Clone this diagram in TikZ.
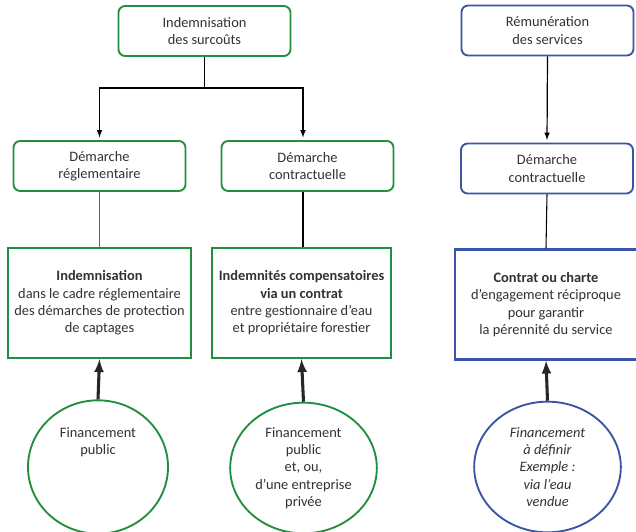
\documentclass[tikz,border=0pt]{standalone}
\usepackage{fontspec}
\setmainfont{Carlito}
\usepackage{xcolor}
\usetikzlibrary{arrows,calc,positioning,shapes.geometric}
\definecolor{vert}{RGB}{34,142,62}
\definecolor{bleu}{RGB}{58,84,166}
\definecolor{texte}{RGB}{50,50,50}
\tikzset{%
	demarche/.style = {draw, rectangle, rounded corners=5pt, line width=1.4pt, minimum width=129pt, minimum height=37.5pt, align=center, text=texte},
	bloc/.style     = {draw, rectangle, line width=1.7pt, minimum width=136pt, minimum height=82.5pt, align=center, text=texte},
	finance/.style  = {draw, ellipse, line width=1.4pt, inner sep=0pt, align=center, text=texte},
	arrow/.style    = {line width=0.9pt,-latex,shorten >=2pt},
	grosse/.style   = {line width=2.3pt,-latex},
}

\begin{document}
\begin{tikzpicture}[x=0.75pt,y=0.75pt,font=\fontsize{10.8}{13}\selectfont]
	\clip (0,0) rectangle (636,-532);
	\fill[white] (0,0) rectangle (636,-532);
	% colonne de gauche : indemnisation
	\node[demarche,draw=vert] (indem) at (204.5,-31) {Indemnisation\\des surco\^uts};
	\node[demarche,draw=vert] (demR) at (99.5,-166) {D\'emarche\\r\'eglementaire};
	\node[demarche,draw=vert] (demC) at (307.5,-166) {D\'emarche\\contractuelle};
	\node[bloc,draw=vert,minimum width=137pt] (blocR) at (99.5,-303) {\textbf{Indemnisation}\\dans le cadre r\'eglementaire\\des d\'emarches de protection\\de captages};
	\node[bloc,draw=vert,minimum width=134pt] (blocC) at (301.5,-303) {\textbf{Indemnit\'es compensatoires}\\\textbf{via un contrat}\\entre gestionnaire d'eau\\et propri\'etaire forestier};
	\node[finance,draw=vert,minimum width=105pt,minimum height=100pt] (finR) at (98,-467) {Financement\\public\\\mbox{}\\\mbox{}\\\mbox{}};
	\node[finance,draw=vert,minimum width=110pt,minimum height=98pt] (finC) at (303.5,-468) {Financement\\public\\et, ou,\\d'une entreprise\\priv\'ee};
	% colonne de droite : services
	\node[demarche,draw=bleu] (remun) at (547.5,-30.5) {R\'emun\'eration\\des services};
	\node[demarche,draw=bleu] (demS) at (547,-168.5) {D\'emarche\\contractuelle};
	\node[bloc,draw=bleu] (blocS) at (546,-304.5) {\textbf{Contrat ou charte}\\d'engagement r\'eciproque\\pour garantir\\la p\'erennit\'e du service};
	\node[finance,draw=bleu,minimum width=110pt,minimum height=98pt] (finS) at (547.5,-467) {\itshape Financement\\\itshape \`a d\'efinir\\\itshape Exemple :\\\itshape via l'eau\\\itshape vendue};
	% liaisons
	\coordinate (split) at ($(indem.south)+(0,-31)$);
	\draw[line width=0.9pt] (indem.south) -- (split);
	\draw[arrow] (split) -| (demR.north);
	\draw[arrow] (split) -| ($(demC.north)+(-4.5,0)$);
	\draw[arrow] (remun.south) -- (demS.north);
	\draw[line width=0.8pt,black!60] (demR.south) -- (blocR.north);
	\draw[line width=0.8pt] ($(demC.south)+(-4.5,0)$) -- ($(blocC.north)+(1.5,0)$);
	\draw[line width=0.8pt] (demS.south) -- (blocS.north);
	\draw[grosse,black!85] (finR.north) -- (blocR.south);
	\draw[grosse,black!85] (finC.north) -- (blocC.south);
	\draw[grosse,black!85] (finS.north) -- (blocS.south);
\end{tikzpicture}
\end{document}
